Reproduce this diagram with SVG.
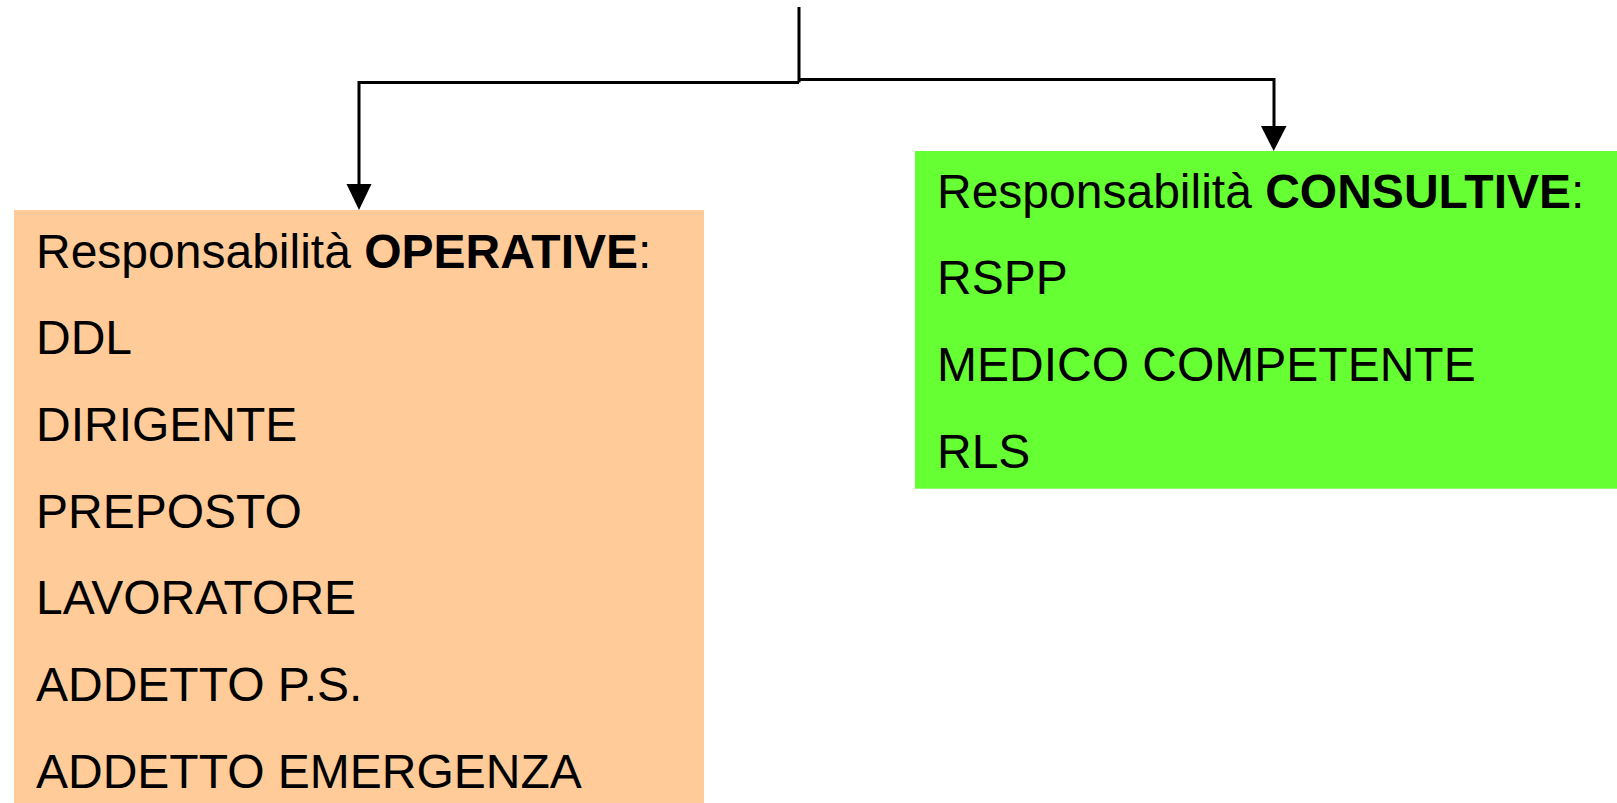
<svg xmlns="http://www.w3.org/2000/svg" width="1617" height="803" viewBox="0 0 1617 803">
<style>
.t{font-family:"Liberation Sans",Arial,sans-serif;font-size:48px;fill:#000}
.b{font-weight:bold}
.ln{fill:none;stroke:#000;stroke-width:3}
.ah{fill:#000}
</style>
<rect width="1617" height="803" fill="#fff"/>
<g id="connectors">
<path class="ln" d="M799,7 V82.5 M799,82.5 H359 V186"/>
<path class="ln" d="M799,79.5 H1274 V128"/>
<polygon class="ah" points="346.5,184 371.5,184 359,210"/>
<polygon class="ah" points="1261,126 1286.5,126 1273.7,151"/>
</g>
<g id="operative">
<rect x="14" y="210" width="690" height="593" fill="#FFCC99"/>
<text class="t" x="36" y="267.7">Responsabilità <tspan class="b">OPERATIVE</tspan>:</text>
<text class="t" x="36" y="354.3">DDL</text>
<text class="t" x="36" y="441">DIRIGENTE</text>
<text class="t" x="36" y="527.7">PREPOSTO</text>
<text class="t" x="36" y="614.3">LAVORATORE</text>
<text class="t" x="36" y="701">ADDETTO P.S.</text>
<text class="t" x="36" y="787.7">ADDETTO EMERGENZA</text>
</g>
<g id="consultive">
<rect x="915" y="151" width="702" height="337.7" fill="#66FF33"/>
<text class="t" x="937" y="207.7">Responsabilità <tspan class="b">CONSULTIVE</tspan>:</text>
<text class="t" x="937" y="294.3">RSPP</text>
<text class="t" x="937" y="381">MEDICO COMPETENTE</text>
<text class="t" x="937" y="467.7">RLS</text>
</g>
</svg>
